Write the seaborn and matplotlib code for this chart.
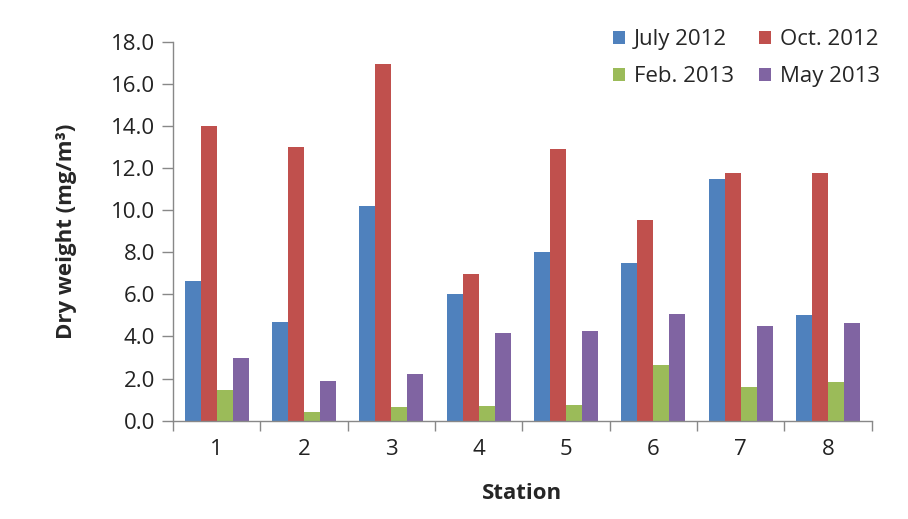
import matplotlib
matplotlib.use("Agg")
import matplotlib.pyplot as plt
import seaborn as sns
import pandas as pd
import numpy as np
from matplotlib.ticker import FixedLocator

stations = ["1", "2", "3", "4", "5", "6", "7", "8"]
july_2012 = [6.64, 4.67, 10.17, 6.03, 7.99, 7.50, 11.48, 5.00]
oct_2012 = [13.98, 13.00, 16.94, 6.96, 12.89, 9.52, 11.74, 11.74]
feb_2013 = [1.46, 0.43, 0.65, 0.70, 0.74, 2.66, 1.61, 1.85]
may_2013 = [2.97, 1.90, 2.23, 4.18, 4.24, 5.06, 4.51, 4.62]
series_names = ["July 2012", "Oct. 2012", "Feb. 2013", "May 2013"]
colors = ["#4F81BD", "#C0504D", "#9BBB59", "#8064A2"]
y_ticks = [0, 2, 4, 6, 8, 10, 12, 14, 16, 18]

rows = []
for name, vals in zip(series_names, [july_2012, oct_2012, feb_2013, may_2013]):
    for s, v in zip(stations, vals):
        rows.append({"Station": s, "Period": name, "Value": v})
df = pd.DataFrame(rows)

sns.set_style("white")
plt.rcParams['font.family'] = ['Open Sans', 'DejaVu Sans']

fig = plt.figure(figsize=(9.08, 5.19), dpi=100)
ax = fig.add_axes([0.1905, 0.1894, 0.7695, 0.7306])

sns.barplot(data=df, x="Station", y="Value", hue="Period", order=stations,
            hue_order=series_names, palette=colors, width=0.73,
            saturation=1, linewidth=0, ax=ax, legend=True)

fs = 16
ax.set_xlim(-0.5, len(stations) - 0.5)
ax.set_ylim(0, 18)
ax.set_yticks(y_ticks)
ax.set_yticklabels([f"{t:.1f}" for t in y_ticks], fontsize=fs, color="#222222")
ax.tick_params(axis="x", which="major", length=0, labelsize=fs, pad=13, labelcolor="#222222")
ax.xaxis.set_minor_locator(FixedLocator(np.arange(-0.5, len(stations), 1.0)))
ax.tick_params(axis="x", which="minor", length=7, color="#888888", width=1, direction="out", bottom=True)
ax.tick_params(axis="y", which="major", length=8, color="#888888", width=1, direction="out", left=True, pad=5)

for side in ["top", "right"]:
    ax.spines[side].set_visible(False)
for side in ["left", "bottom"]:
    ax.spines[side].set_color("#888888")
    ax.spines[side].set_linewidth(1)

ax.set_xlabel("Station", fontsize=fs, fontweight="bold", labelpad=17)
ax.set_ylabel("Dry weight (mg/m³)", fontsize=fs, fontweight="bold", labelpad=24)

handles, labels = ax.get_legend_handles_labels()
order = [0, 2, 1, 3]
ax.legend([handles[i] for i in order], [labels[i] for i in order], ncol=2,
          loc="upper right", bbox_to_anchor=(1.04, 1.085),
          frameon=False, fontsize=fs, handlelength=0.55, handleheight=0.55,
          handletextpad=0.4, columnspacing=1.1, labelspacing=0.72)

fig.savefig("out.png", dpi=100)
